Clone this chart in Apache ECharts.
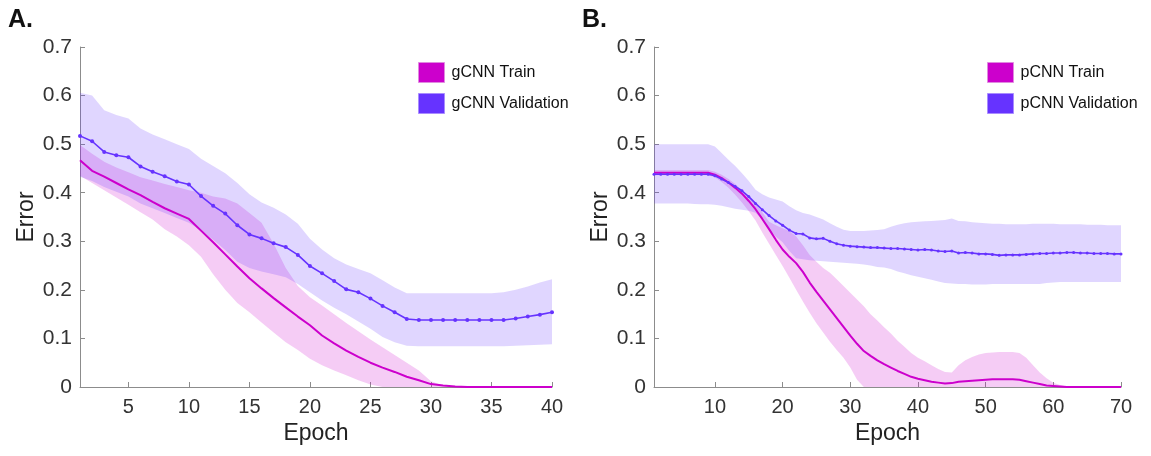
<!DOCTYPE html>
<html>
<head>
<meta charset="utf-8">
<script src="https://cdn.jsdelivr.net/npm/echarts@6/dist/echarts.min.js"></script>
<style>
  html, body { margin: 0; padding: 0; background: #fff; }
  #chart { width: 1151px; height: 456px; }
</style>
</head>
<body>
<div id="chart"></div>
<script>
// panel A: gCNN, 40 epochs
const epochsA = Array.from({ length: 40 }, (_, i) => i + 1)
const ticksA = [5, 10, 15, 20, 25, 30, 35, 40]
const trainA = [0.467, 0.445, 0.433, 0.420, 0.407, 0.395, 0.381, 0.368, 0.357, 0.346,
  0.322, 0.298, 0.273, 0.248, 0.224, 0.203, 0.183, 0.164, 0.145, 0.127,
  0.106, 0.090, 0.075, 0.062, 0.050, 0.040, 0.031, 0.021, 0.014, 0.006,
  0.003, 0.001, 0, 0, 0, 0, 0, 0, 0, 0]
const trainAHi = [0.498, 0.480, 0.464, 0.452, 0.442, 0.432, 0.425, 0.418, 0.412, 0.405,
  0.400, 0.392, 0.388, 0.378, 0.358, 0.338, 0.295, 0.245, 0.208, 0.185,
  0.168, 0.150, 0.132, 0.115, 0.098, 0.082, 0.066, 0.050, 0.034, 0.012,
  0.003, 0, 0, 0, 0, 0, 0, 0, 0, 0]
const trainALo = [0.435, 0.420, 0.405, 0.390, 0.375, 0.360, 0.345, 0.325, 0.310, 0.292,
  0.268, 0.232, 0.200, 0.173, 0.154, 0.133, 0.112, 0.092, 0.076, 0.058,
  0.045, 0.034, 0.024, 0.014, 0.005, 0, 0, 0, 0, 0,
  0, 0, 0, 0, 0, 0, 0, 0, 0, 0]
const valA = [0.517, 0.506, 0.484, 0.477, 0.473, 0.454, 0.443, 0.434, 0.423, 0.417,
  0.393, 0.373, 0.357, 0.333, 0.314, 0.306, 0.296, 0.288, 0.272, 0.249,
  0.234, 0.218, 0.201, 0.195, 0.182, 0.167, 0.154, 0.140, 0.138, 0.138,
  0.138, 0.138, 0.138, 0.138, 0.138, 0.138, 0.141, 0.145, 0.149, 0.154]
const valAHi = [0.606, 0.600, 0.570, 0.560, 0.553, 0.532, 0.520, 0.510, 0.500, 0.490,
  0.470, 0.455, 0.440, 0.420, 0.397, 0.380, 0.369, 0.355, 0.336, 0.305,
  0.283, 0.265, 0.252, 0.243, 0.234, 0.220, 0.205, 0.193, 0.193, 0.193,
  0.193, 0.193, 0.193, 0.193, 0.193, 0.195, 0.200, 0.207, 0.215, 0.222]
const valALo = [0.433, 0.424, 0.412, 0.402, 0.392, 0.378, 0.368, 0.358, 0.348, 0.338,
  0.322, 0.303, 0.282, 0.258, 0.245, 0.238, 0.232, 0.226, 0.212, 0.195,
  0.178, 0.163, 0.150, 0.135, 0.120, 0.103, 0.092, 0.085, 0.084, 0.084,
  0.084, 0.084, 0.084, 0.084, 0.084, 0.084, 0.085, 0.086, 0.087, 0.088]

// panel B: pCNN, 70 epochs
const epochsB = Array.from({ length: 70 }, (_, i) => i + 1)
const ticksB = [10, 20, 30, 40, 50, 60, 70]
const trainB = [0.441, 0.441, 0.441, 0.441, 0.441, 0.441, 0.441, 0.441, 0.441, 0.437,
  0.430, 0.421, 0.410, 0.398, 0.383, 0.366, 0.346, 0.325, 0.303, 0.283,
  0.268, 0.255, 0.237, 0.215, 0.196, 0.178, 0.160, 0.142, 0.124, 0.106,
  0.089, 0.074, 0.064, 0.055, 0.047, 0.040, 0.033, 0.027, 0.021, 0.017,
  0.014, 0.011, 0.009, 0.007, 0.008, 0.011, 0.012, 0.013, 0.014, 0.015,
  0.016, 0.016, 0.016, 0.016, 0.015, 0.012, 0.009, 0.006, 0.003, 0.002,
  0.001, 0, 0, 0, 0, 0, 0, 0, 0, 0]
const trainBHi = [0.447, 0.447, 0.447, 0.447, 0.447, 0.447, 0.447, 0.447, 0.447, 0.443,
  0.437, 0.428, 0.418, 0.405, 0.392, 0.378, 0.360, 0.340, 0.333, 0.327,
  0.321, 0.310, 0.292, 0.272, 0.258, 0.245, 0.235, 0.222, 0.208, 0.194,
  0.180, 0.166, 0.150, 0.137, 0.123, 0.110, 0.095, 0.083, 0.070, 0.060,
  0.053, 0.045, 0.037, 0.031, 0.030, 0.045, 0.055, 0.062, 0.067, 0.070,
  0.071, 0.072, 0.072, 0.072, 0.070, 0.060, 0.045, 0.030, 0.018, 0.009,
  0.004, 0.001, 0, 0, 0, 0, 0, 0, 0, 0]
const trainBLo = [0.436, 0.436, 0.436, 0.436, 0.436, 0.436, 0.436, 0.436, 0.436, 0.432,
  0.422, 0.410, 0.396, 0.380, 0.362, 0.343, 0.318, 0.295, 0.272, 0.249,
  0.225, 0.200, 0.176, 0.153, 0.131, 0.112, 0.093, 0.076, 0.060, 0.040,
  0.015, 0, 0, 0, 0, 0, 0, 0, 0, 0,
  0, 0, 0, 0, 0, 0, 0, 0, 0, 0,
  0, 0, 0, 0, 0, 0, 0, 0, 0, 0,
  0, 0, 0, 0, 0, 0, 0, 0, 0, 0]
const valB = [0.438, 0.438, 0.438, 0.438, 0.438, 0.438, 0.438, 0.438, 0.438, 0.435,
  0.428, 0.421, 0.413, 0.404, 0.392, 0.378, 0.365, 0.353, 0.342, 0.333,
  0.323, 0.316, 0.315, 0.307, 0.305, 0.306, 0.300, 0.295, 0.292, 0.290,
  0.289, 0.288, 0.287, 0.287, 0.286, 0.285, 0.285, 0.284, 0.283, 0.282,
  0.283, 0.282, 0.280, 0.279, 0.280, 0.276, 0.277, 0.276, 0.274, 0.274,
  0.273, 0.271, 0.272, 0.272, 0.272, 0.273, 0.274, 0.275, 0.275, 0.276,
  0.276, 0.277, 0.277, 0.276, 0.276, 0.275, 0.275, 0.275, 0.274, 0.274]
const valBHi = [0.500, 0.500, 0.500, 0.500, 0.500, 0.500, 0.500, 0.500, 0.500, 0.495,
  0.482, 0.468, 0.455, 0.440, 0.424, 0.406, 0.397, 0.390, 0.386, 0.382,
  0.372, 0.364, 0.358, 0.355, 0.350, 0.345, 0.337, 0.330, 0.324, 0.321,
  0.321, 0.321, 0.322, 0.323, 0.325, 0.330, 0.334, 0.337, 0.339, 0.340,
  0.341, 0.342, 0.343, 0.344, 0.347, 0.342, 0.341, 0.339, 0.338, 0.337,
  0.336, 0.336, 0.335, 0.335, 0.335, 0.335, 0.336, 0.336, 0.336, 0.336,
  0.335, 0.335, 0.335, 0.335, 0.334, 0.334, 0.334, 0.333, 0.333, 0.333]
const valBLo = [0.378, 0.378, 0.378, 0.378, 0.378, 0.378, 0.377, 0.376, 0.376, 0.375,
  0.373, 0.370, 0.367, 0.365, 0.363, 0.359, 0.345, 0.325, 0.310, 0.298,
  0.280, 0.265, 0.263, 0.261, 0.260, 0.259, 0.258, 0.257, 0.256, 0.255,
  0.254, 0.252, 0.250, 0.247, 0.246, 0.243, 0.238, 0.234, 0.230, 0.227,
  0.224, 0.221, 0.217, 0.214, 0.213, 0.212, 0.212, 0.211, 0.211, 0.211,
  0.212, 0.212, 0.212, 0.212, 0.212, 0.212, 0.212, 0.212, 0.214, 0.215,
  0.216, 0.216, 0.216, 0.216, 0.216, 0.216, 0.216, 0.216, 0.216, 0.216]

const yTicks = [0, 0.1, 0.2, 0.3, 0.4, 0.5, 0.6, 0.7]

const TRAIN = '#cc00cc'
const VAL = '#6633ff'
const FONT = 'Liberation Sans, Arial, sans-serif'

const pairs = (xs, ys) => xs.map((x, i) => [x, ys[i]])

// shaded band: one polygon through lower and upper edges
function band(name, idx, xs, lo, hi, color) {
  return {
    name: name,
    type: 'custom',
    xAxisIndex: idx,
    yAxisIndex: idx,
    silent: true,
    z: 1,
    data: xs.map((x, i) => [x, lo[i], hi[i]]),
    encode: { x: 0, y: [1, 2] },
    renderItem: (params, api) => {
      if (params.dataIndex !== 0) return null
      let top = xs.map((x, i) => api.coord([x, hi[i]]))
      let bot = xs.map((x, i) => api.coord([x, lo[i]])).reverse()
      return {
        type: 'polygon',
        shape: { points: top.concat(bot) },
        style: { fill: color }
      }
    }
  }
}

function xAxis(idx, max, ticks) {
  return {
    type: 'value', gridIndex: idx, min: 1, max: max,
    name: 'Epoch', nameLocation: 'middle', nameGap: 34,
    nameTextStyle: { fontSize: 23, color: '#222', fontFamily: FONT },
    splitLine: { show: false },
    axisLine: { lineStyle: { color: '#8c8c8c' } },
    axisTick: { inside: true, length: 5, customValues: ticks, lineStyle: { color: '#8c8c8c' } },
    axisLabel: { customValues: ticks, margin: 10, fontSize: 20, color: '#333', fontFamily: FONT }
  }
}

function yAxis(idx) {
  return {
    type: 'value', gridIndex: idx, min: 0, max: 0.7,
    name: 'Error', nameLocation: 'middle', nameGap: 42,
    nameTextStyle: { fontSize: 23, color: '#222', fontFamily: FONT },
    splitLine: { show: false },
    axisLine: { show: true, lineStyle: { color: '#8c8c8c' } },
    axisTick: { show: true, inside: true, length: 5, customValues: yTicks, lineStyle: { color: '#8c8c8c' } },
    axisLabel: { customValues: yTicks, margin: 8, fontSize: 21, color: '#333', fontFamily: FONT }
  }
}

function legend(left, names) {
  return {
    left: left, top: 57, orient: 'vertical',
    itemWidth: 26, itemHeight: 20, itemGap: 10,
    icon: 'rect',
    textStyle: { fontSize: 16, color: '#111', fontFamily: FONT, padding: [0, 0, 0, 2] },
    data: [
      { name: names[0], itemStyle: { color: TRAIN, borderColor: '#e08ae0', borderWidth: 1 } },
      { name: names[1], itemStyle: { color: VAL, borderColor: '#a98cff', borderWidth: 1 } }
    ]
  }
}

function lines(idx, xs, train, val, names, dot) {
  return [
    {
      name: names[0], type: 'line', xAxisIndex: idx, yAxisIndex: idx,
      data: pairs(xs, train), showSymbol: false, symbol: 'none', z: 3,
      lineStyle: { color: TRAIN, width: 2 }, itemStyle: { color: TRAIN }
    },
    {
      name: names[1], type: 'line', xAxisIndex: idx, yAxisIndex: idx,
      data: pairs(xs, val), symbol: 'circle', symbolSize: dot, showSymbol: true, z: 4,
      lineStyle: { color: VAL, width: 1.6 }, itemStyle: { color: VAL }
    }
  ]
}

const namesA = ['gCNN Train', 'gCNN Validation']
const namesB = ['pCNN Train', 'pCNN Validation']

const chart = echarts.init(document.getElementById('chart'), null, { renderer: 'canvas' })
chart.setOption({
  animation: false,
  backgroundColor: '#fff',
  title: [
    { text: 'A.', left: 3, top: 3, textStyle: { fontSize: 25, fontWeight: 'bold', color: '#111', fontFamily: FONT } },
    { text: 'B.', left: 577, top: 3, textStyle: { fontSize: 25, fontWeight: 'bold', color: '#111', fontFamily: FONT } }
  ],
  legend: [legend(413, namesA), legend(982, namesB)],
  grid: [
    { left: 80, top: 47, width: 472, height: 340 },
    { left: 654, top: 47, width: 467, height: 340 }
  ],
  xAxis: [xAxis(0, 40, ticksA), xAxis(1, 70, ticksB)],
  yAxis: [yAxis(0), yAxis(1)],
  series: [
    band('gCNN Train band', 0, epochsA, trainALo, trainAHi, 'rgba(204,0,204,0.2)'),
    band('gCNN Validation band', 0, epochsA, valALo, valAHi, 'rgba(102,51,255,0.2)'),
    ...lines(0, epochsA, trainA, valA, namesA, 4),
    band('pCNN Train band', 1, epochsB, trainBLo, trainBHi, 'rgba(204,0,204,0.2)'),
    band('pCNN Validation band', 1, epochsB, valBLo, valBHi, 'rgba(102,51,255,0.2)'),
    ...lines(1, epochsB, trainB, valB, namesB, 3)
  ]
})
</script>
</body>
</html>
